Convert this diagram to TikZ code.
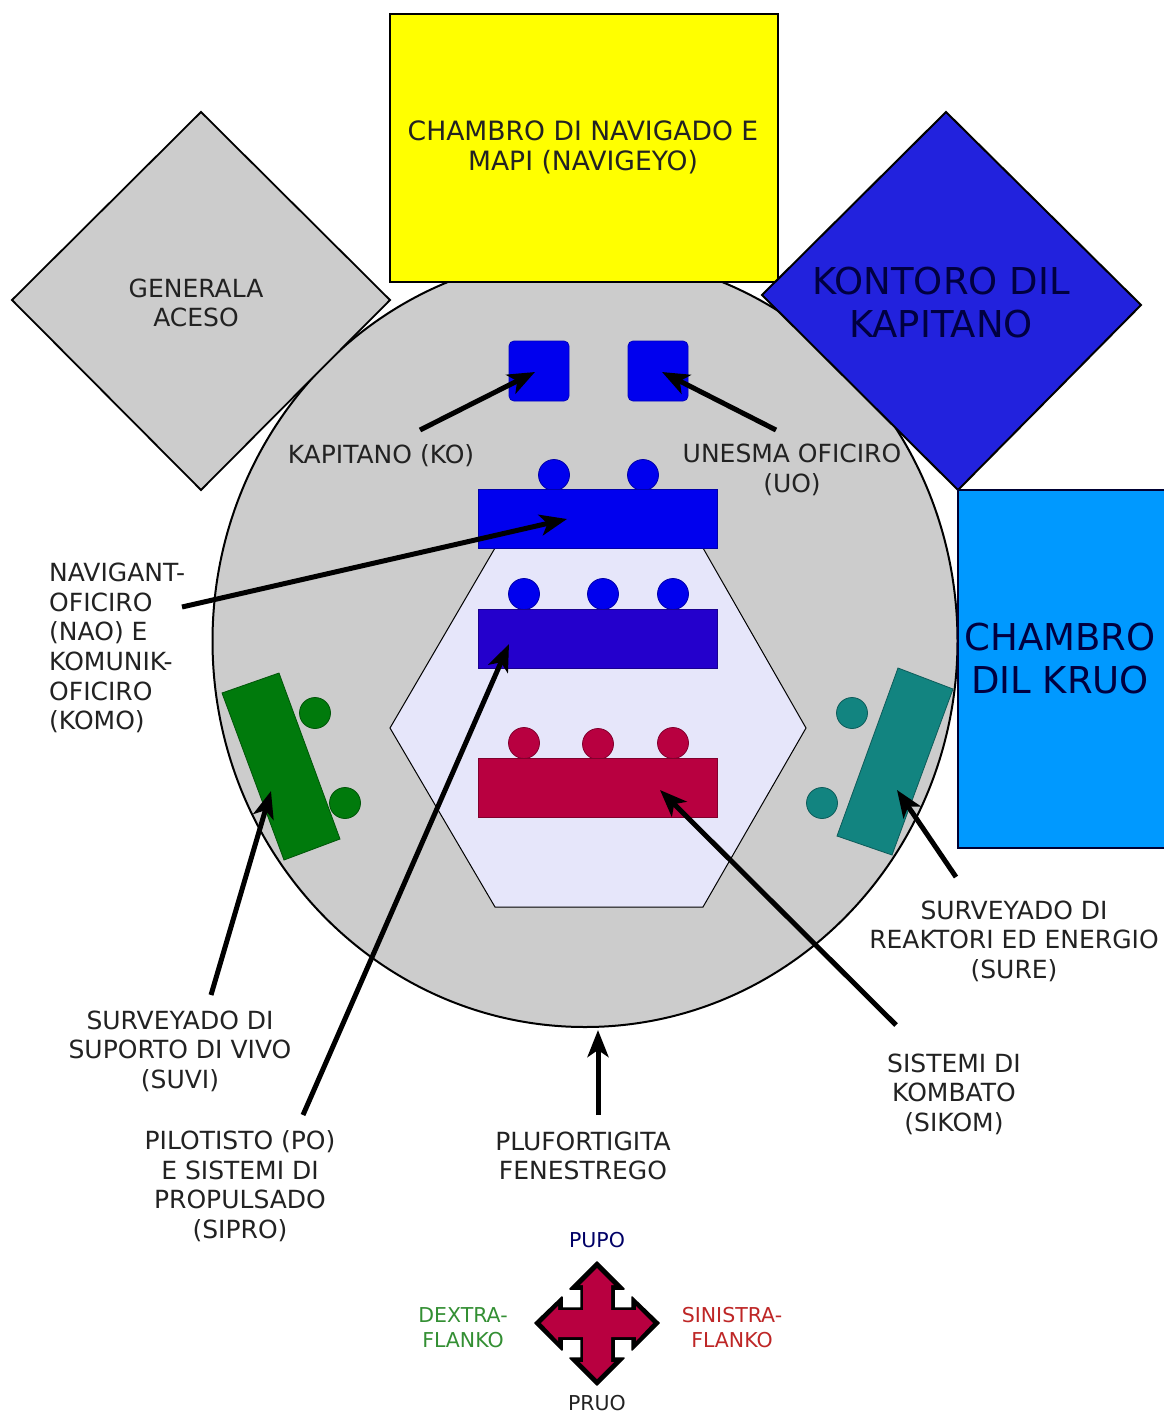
\documentclass[tikz,border=0pt]{standalone}
\usepackage{fontspec}
\setmainfont{DejaVu Sans}
\usetikzlibrary{arrows.meta}
\definecolor{hullgray}{HTML}{CCCCCC}
\definecolor{hexfill}{HTML}{E6E6FA}
\definecolor{pureblue}{HTML}{0000EE}
\definecolor{deepblue}{HTML}{2400CC}
\definecolor{crimsonx}{HTML}{B80040}
\definecolor{greenx}{HTML}{007A0C}
\definecolor{tealx}{HTML}{128480}
\definecolor{skyx}{HTML}{0099FF}
\definecolor{kontoro}{HTML}{2222DD}
\definecolor{txt}{HTML}{222222}
\definecolor{yellowx}{RGB}{255,255,0}
\tikzset{
 x=1pt,y=-1pt,
 lbl/.style={align=center,text=txt,font=\fontsize{25}{29.6}\selectfont,inner sep=0pt},
 lblleft/.style={lbl,align=left},
 biglbl/.style={lbl,text=black!75!blue,font=\fontsize{37}{43}\selectfont},
 small/.style={align=center,inner sep=0pt,font=\fontsize{20.5}{25}\selectfont},
 pointer/.style={line width=5pt,black,-{Stealth[length=27pt,width=21pt,inset=7pt]}},
 seat/.style={circle,minimum size=31pt,inner sep=0pt,line width=.8pt},
 bar/.style={minimum width=239pt,minimum height=59pt,inner sep=0pt,line width=.8pt,rectangle},
 desk/.style={rectangle,minimum width=60pt,minimum height=60pt,rounded corners=5pt,inner sep=0pt,draw=pureblue!80!black,fill=pureblue,line width=.8pt},
}
\begin{document}
\begin{tikzpicture}
\useasboundingbox (0,0) rectangle (1164,1414);
\fill[white] (0,0) rectangle (1164,1414);
% hull
\draw[fill=hullgray,line width=2pt] (585,641) ellipse [x radius=372.5,y radius=386];
% rooms
\draw[fill=hullgray,line width=1.8pt] (201,112) -- (390,300) -- (201,490) -- (12,300) -- cycle;
\draw[fill=yellowx,line width=2pt] (390,14) rectangle (778,282);
\draw[fill=kontoro,line width=2pt] (946,112) -- (1141,305) -- (958,490) -- (762,295) -- cycle;
\draw[fill=skyx,line width=2pt,draw=black!80!blue] (958,490) rectangle (1170,848);
\node[lbl,font=\fontsize{26.6}{30}\selectfont] (nav) at (583,147) {CHAMBRO DI NAVIGADO E\\MAPI (NAVIGEYO)};
\node[lbl] (gen) at (196,303) {GENERALA\\ACESO};
\node[biglbl] (kon) at (941,303) {KONTORO DIL\\KAPITANO};
\node[biglbl] (kru) at (1060,659) {CHAMBRO\\DIL KRUO};
% hexagon
\draw[fill=hexfill,line width=1pt] (390,728) -- (495,548) -- (703,548) -- (806,728) -- (703,907) -- (495,907) -- cycle;
% desks
\node[desk] (ko) at (539,371) {};
\node[desk] (uo) at (658,371) {};
\node[seat,draw=pureblue!70!black,fill=pureblue] (s1) at (554,475) {};
\node[seat,draw=pureblue!70!black,fill=pureblue] (s2) at (643,475) {};
\node[bar,draw=pureblue!70!black,fill=pureblue] (nao) at (598,519) {};
\node[seat,draw=pureblue!70!black,fill=pureblue] (s3) at (524,594) {};
\node[seat,draw=pureblue!70!black,fill=pureblue] (s4) at (603,594) {};
\node[seat,draw=pureblue!70!black,fill=pureblue] (s5) at (673,594) {};
\node[bar,draw=deepblue!70!black,fill=deepblue] (pil) at (598,639) {};
\node[seat,draw=crimsonx!70!black,fill=crimsonx] (s6) at (524,743) {};
\node[seat,draw=crimsonx!70!black,fill=crimsonx] (s7) at (598,744) {};
\node[seat,draw=crimsonx!70!black,fill=crimsonx] (s8) at (673,743) {};
\node[bar,draw=crimsonx!70!black,fill=crimsonx] (kom) at (598,788) {};
% side stations
\draw[fill=greenx,draw=greenx!70!black,line width=.8pt] (222,693) -- (279,673) -- (340,839) -- (284,860) -- cycle;
\node[seat,draw=greenx!70!black,fill=greenx] (g1) at (315,713) {};
\node[seat,draw=greenx!70!black,fill=greenx] (g2) at (345,803) {};
\draw[fill=tealx,draw=tealx!70!black,line width=.8pt] (898,668) -- (953,689) -- (892,855) -- (837,836) -- cycle;
\node[seat,draw=tealx!70!black,fill=tealx] (t1) at (852,713) {};
\node[seat,draw=tealx!70!black,fill=tealx] (t2) at (822,803) {};
% labels
\node[lbl] (lko) at (381,456) {KAPITANO (KO)};
\node[lbl] (luo) at (792,470) {UNESMA OFICIRO\\(UO)};
\node[lblleft,anchor=west] (lnao) at (49,648) {NAVIGANT-\\OFICIRO\\(NAO) E\\KOMUNIK-\\OFICIRO\\(KOMO)};
\node[lbl] (lsure) at (1014,941) {SURVEYADO DI\\REAKTORI ED ENERGIO\\(SURE)};
\node[lbl] (lsik) at (954,1094) {SISTEMI DI\\KOMBATO\\(SIKOM)};
\node[lbl] (lfen) at (583,1156) {PLUFORTIGITA\\FENESTREGO};
\node[lbl] (lpil) at (240,1186) {PILOTISTO (PO)\\E SISTEMI DI\\PROPULSADO\\(SIPRO)};
\node[lbl] (lsuvi) at (180,1051) {SURVEYADO DI\\SUPORTO DI VIVO\\(SUVI)};
% pointers
\coordinate (a1) at (420,430); \coordinate (b1) at (535,372);
\coordinate (a2) at (776,430); \coordinate (b2) at (662,372);
\coordinate (a3) at (182,607); \coordinate (b3) at (567,519);
\coordinate (a4) at (303,1115); \coordinate (b4) at (509,644);
\coordinate (a5) at (211,995); \coordinate (b5) at (271,791);
\coordinate (a6) at (598,1115); \coordinate (b6) at (598,1030);
\coordinate (a7) at (896,1025); \coordinate (b7) at (660,790);
\coordinate (a8) at (956,877); \coordinate (b8) at (897,790);
\foreach \i in {1,...,8}{\draw[pointer] (a\i) -- (b\i);}
% compass
\fill[black,draw=black,line width=1.5pt,line join=round] (597,1262) -- (624,1289) -- (614,1289) -- (614,1308) -- (632,1308) -- (632,1297) -- (659,1323) -- (632,1350) -- (632,1339) -- (614,1339) -- (614,1358) -- (624,1358) -- (597,1385) -- (570,1358) -- (581,1358) -- (581,1339) -- (562,1339) -- (562,1350) -- (535,1323) -- (562,1297) -- (562,1308) -- (581,1308) -- (581,1289) -- (570,1289) -- cycle;
\fill[crimsonx] (597,1268) -- (614,1285) -- (611,1285) -- (611,1310) -- (636,1310) -- (636,1306) -- (653,1323) -- (636,1341) -- (636,1337) -- (611,1337) -- (611,1362) -- (614,1362) -- (597,1379) -- (580,1362) -- (583,1362) -- (583,1337) -- (558,1337) -- (558,1341) -- (541,1323) -- (558,1306) -- (558,1310) -- (583,1310) -- (583,1285) -- (580,1285) -- cycle;
\node[small,text=blue!40!black] (pu) at (597,1240) {PUPO};
\node[small,text=txt] (pr) at (597,1403) {PRUO};
\node[small,text=green!45!black!80!white] (dx) at (463,1328) {DEXTRA-\\FLANKO};
\node[small,text=red!70!black!85!white] (sx) at (732,1328) {SINISTRA-\\FLANKO};
\end{tikzpicture}
\end{document}
